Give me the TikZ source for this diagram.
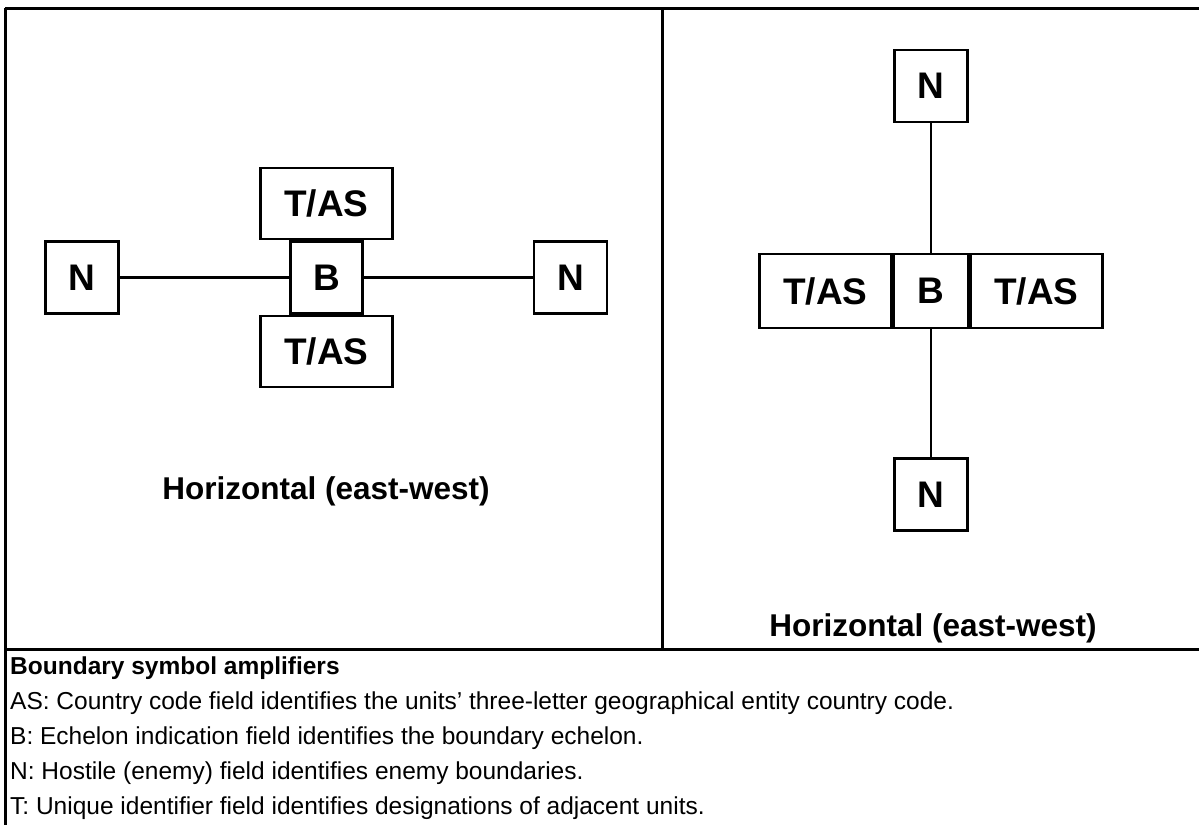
\documentclass[tikz,border=0pt]{standalone}
\usepackage{fontspec}
\setmainfont{Liberation Sans}
\usetikzlibrary{positioning}

\begin{document}
\begin{tikzpicture}[
    x=1pt, y=-1pt,
    box/.style={draw, line width=2.5pt, inner sep=0pt, font=\fontsize{37}{40}\selectfont\bfseries},
    nbox/.style={box, minimum width=73pt, minimum height=72pt},
    tbox/.style={box, minimum width=132pt, minimum height=71pt},
    bbox/.style={box, minimum width=72pt, minimum height=72pt},
    wire/.style={line width=2.5pt},
    rule/.style={line width=3pt},
    caption/.style={font=\fontsize{31.5}{34}\selectfont\bfseries},
    note/.style={anchor=west, inner sep=0pt, font=\fontsize{24.5}{28}\selectfont}
  ]
  \useasboundingbox (0,0) rectangle (1199,825);

  % Cornice della tabella
  \draw[rule] (5,8) -- (1199,8);
  \draw[rule] (5,8) -- (5,825);
  \draw[rule] (662,8) -- (662,649);
  \draw[rule] (5,649) -- (1199,649);

  % Simbolo a sinistra
  \node[bbox] (bl) at (326.5,277.5) {B};
  \node[tbox, above=0pt of bl] (tl1) {T/AS};
  \node[tbox, below=0pt of bl] (tl2) {T/AS};
  \node[nbox] (nl1) at (82,277.5) {N};
  \node[nbox] (nl2) at (570.5,277.5) {N};
  \draw[wire] (nl1) -- (bl);
  \draw[wire] (bl) -- (nl2);
  \node[caption] (capl) at (326,491) {Horizontal (east-west)};

  % Simbolo a destra
  \node[bbox, minimum width=74pt, minimum height=74pt] (br) at (931,291) {B};
  \node[tbox, minimum height=74pt, left=0pt of br] (tr1) {T/AS};
  \node[tbox, minimum height=74pt, right=0pt of br] (tr2) {T/AS};
  \node[nbox] (nr1) at (931,86) {N};
  \node[nbox] (nr2) at (931,494.5) {N};
  \draw[wire] (nr1) -- (br);
  \draw[wire] (br) -- (nr2);
  \node[caption] (capr) at (933,628) {Horizontal (east-west)};

  % Legenda
  \node[note, font=\fontsize{24.5}{28}\selectfont\bfseries] (leg0) at (10,668) {Boundary symbol amplifiers};
  \node[note] (leg1) at (10,703) {AS: Country code field identifies the units’ three-letter geographical entity country code.};
  \node[note] (leg2) at (10,738) {B: Echelon indication field identifies the boundary echelon.};
  \node[note] (leg3) at (10,773) {N: Hostile (enemy) field identifies enemy boundaries.};
  \node[note] (leg4) at (10,808) {T: Unique identifier field identifies designations of adjacent units.};
\end{tikzpicture}
\end{document}
